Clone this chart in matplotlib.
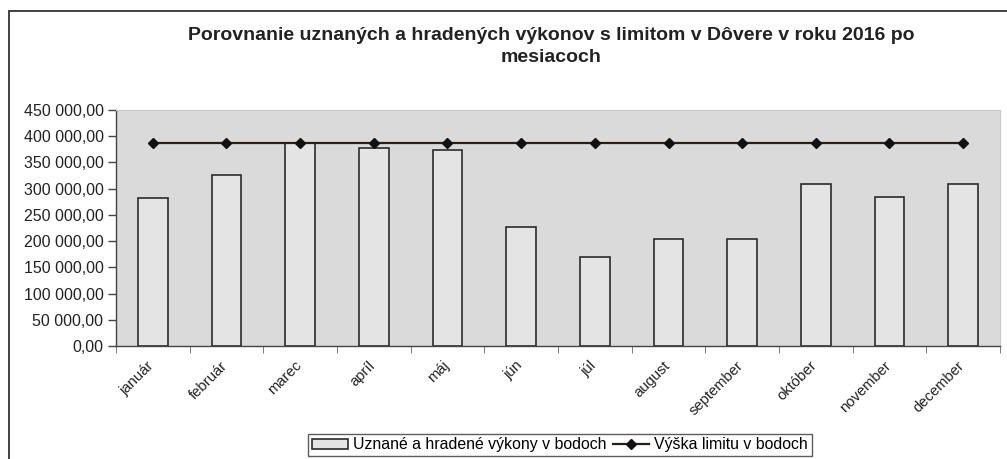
import matplotlib.pyplot as plt
import numpy as np
from matplotlib.ticker import FuncFormatter
from matplotlib.patches import Rectangle

plt.rcParams['font.family'] = ['Liberation Sans', 'DejaVu Sans']

# data
mesiace = ['január', 'február', 'marec', 'apríl', 'máj', 'jún', 'júl',
           'august', 'september', 'október', 'november', 'december']
uznane = [282000, 326500, 387000, 378000, 373500, 226500, 169000,
          203500, 203500, 309500, 285000, 308500]
limit = [387000] * 12

fig = plt.figure(figsize=(10.07, 4.59), dpi=100)
ax = fig.add_axes([116/1007, 1-346/459, 884/1007, 236/459])

# outer chart frame (only left and top visible in the scan)
fig.patches.append(Rectangle((9/1007, -0.1), 1.2, 1 - 11/459 + 0.1,
                             transform=fig.transFigure, fill=False,
                             edgecolor='#333333', linewidth=1.3))

x = np.arange(len(mesiace))
ax.set_facecolor('#dadada')
bars = ax.bar(x, uznane, width=0.4, color='#e4e4e4', edgecolor='#2a2a2a',
              linewidth=1.2, label='Uznané a hradené výkony v bodoch', zorder=2)
line, = ax.plot(x, limit, color='#2b1d14', linewidth=1.6, marker='D', markersize=5,
                markerfacecolor='#111111', markeredgecolor='#111111',
                label='Výška limitu v bodoch', zorder=3)

ax.set_xlim(-0.5, 11.5)
ax.set_ylim(0, 450000)
ax.set_yticks(np.arange(0, 450001, 50000))
ax.yaxis.set_major_formatter(FuncFormatter(
    lambda v, p: '{:,.2f}'.format(v).replace(',', ' ').replace('.', ',')))
ax.tick_params(axis='y', direction='out', length=6, width=1, colors='#444444',
               labelcolor='#222222', labelsize=11.5, pad=3)

ax.set_xticks(x - 0.08)
ax.set_xticklabels(mesiace, rotation=45, ha='right', rotation_mode='anchor',
                   fontsize=10.6, color='#222222')
ax.set_xticks(np.arange(-0.5, 12, 1), minor=True)
ax.tick_params(axis='x', which='major', length=0, pad=9)
ax.tick_params(axis='x', which='minor', direction='out', length=5,
               color='#666666')

for s in ['top', 'right']:
    ax.spines[s].set_color('#c8c8c8')
    ax.spines[s].set_linewidth(0.8)
for s in ['left', 'bottom']:
    ax.spines[s].set_color('#444444')
    ax.spines[s].set_linewidth(1.0)

fig.text(551/1007, 1-36/459,
         'Porovnanie uznaných a hradených výkonov s limitom v Dôvere v roku 2016 po',
         ha='center', va='center', fontsize=14, fontweight='bold', color='#222222')
fig.text(551/1007, 1-58/459, 'mesiacoch',
         ha='center', va='center', fontsize=14, fontweight='bold', color='#222222')

leg = fig.legend([bars, line], ['Uznané a hradené výkony v bodoch', 'Výška limitu v bodoch'],
                 loc='center', bbox_to_anchor=(560/1007, 1-445/459), ncol=2,
                 fontsize=11.4, frameon=True, fancybox=False, borderpad=0.25,
                 handlelength=2.3, handleheight=0.6, handletextpad=0.3,
                 columnspacing=0.4, borderaxespad=0)
leg.get_frame().set_edgecolor('#333333')
leg.get_frame().set_linewidth(1.0)

fig.savefig('out.png', dpi=100, facecolor='white')
